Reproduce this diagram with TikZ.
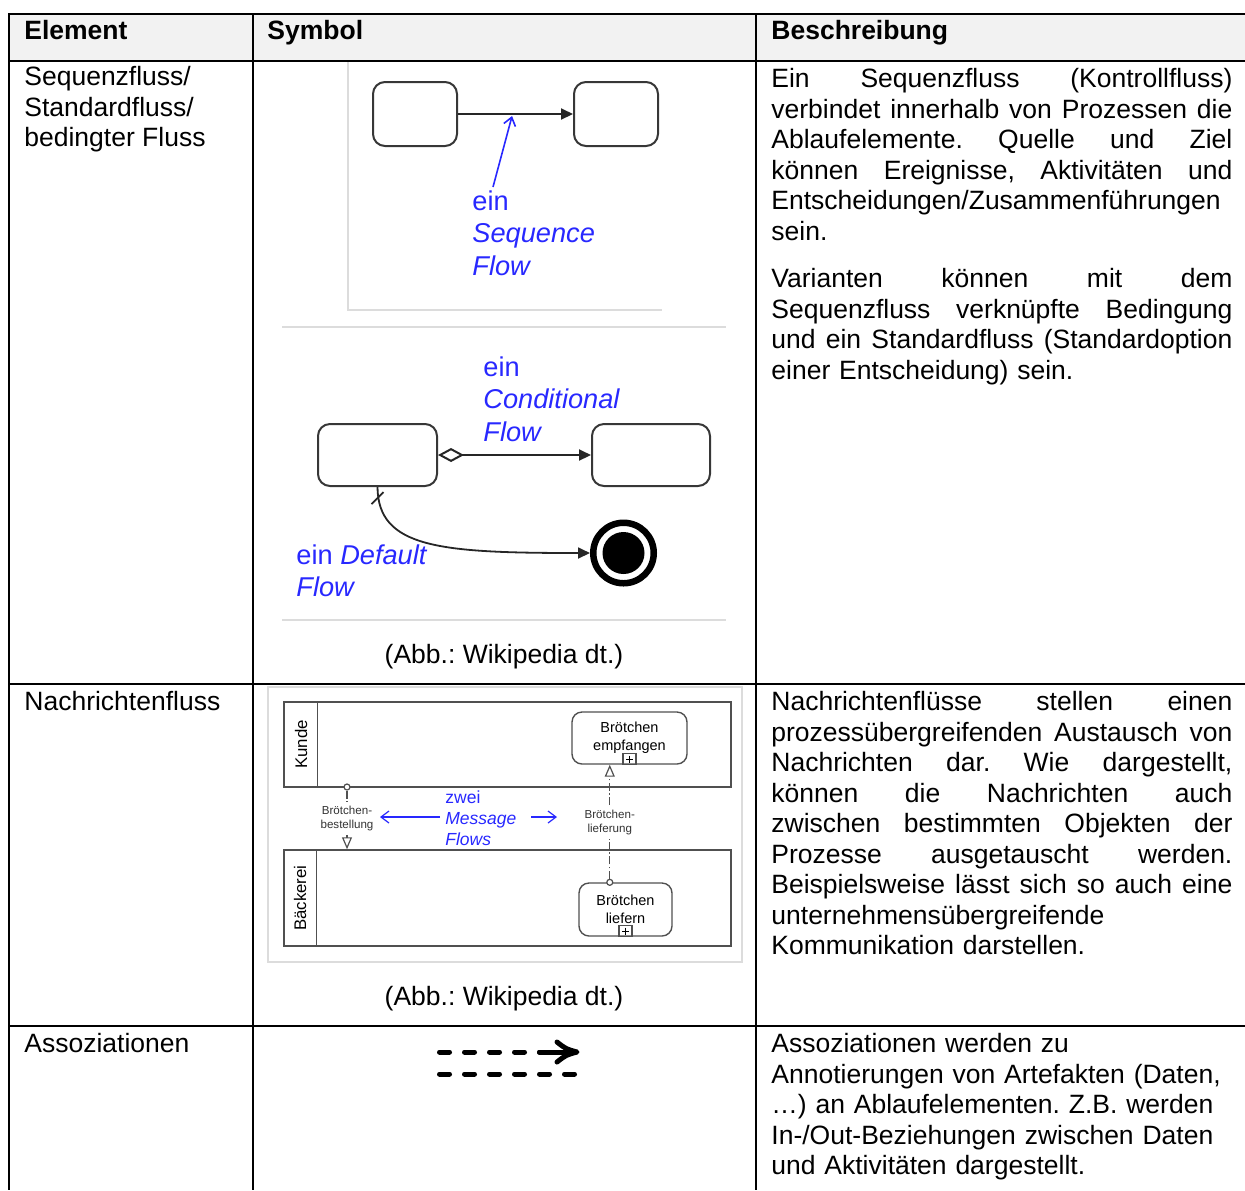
\documentclass[tikz,border=0pt]{standalone}
\usepackage{fontspec}
\setmainfont{Liberation Sans}
\usetikzlibrary{arrows.meta,calc}

\definecolor{lblblue}{RGB}{40,40,255}
\definecolor{hdrgrey}{RGB}{242,242,242}
\definecolor{framegrey}{RGB}{220,220,220}
\definecolor{shapegrey}{RGB}{55,55,55}
\definecolor{poolgrey}{RGB}{80,80,80}

\newcommand\bodyfont{\fontsize{13.25pt}{15.25pt}\selectfont}
\newcommand\figfont{\fontsize{13.6pt}{16.25pt}\selectfont}
\newcommand\taskfont{\fontsize{7.25pt}{9pt}\selectfont}
\newcommand\msgfont{\fontsize{5.8pt}{7pt}\selectfont}
\newcommand\notefont{\fontsize{8.75pt}{10.5pt}\selectfont}
\newcommand\poolfont{\fontsize{8.4pt}{10pt}\selectfont}
% width of the description column and a fully justified line in it:
% every interword space gets an equal share of the spare width
\newlength\desccol
\setlength\desccol{230.5pt}
\newcommand\jl[1]{\noindent\hbox to \desccol{\spaceskip=\fontdimen2\font plus 1fil\relax
  \xspaceskip=\spaceskip #1}}

\tikzset{
  grid/.style={line width=1.4pt, black},
  cell/.style={anchor=north west, inner sep=0pt, align=left, font=\bodyfont,
    execute at begin node=\strut},
  desc/.style={anchor=north west, inner sep=0pt, text width=\desccol, align=left,
    font=\bodyfont, execute at begin node=\strut},
  caption/.style={anchor=base, inner sep=0pt, font=\bodyfont},
  frameline/.style={line width=1.2pt, framegrey},
  flowbox/.style={draw=shapegrey, line width=1pt, rounded corners=6pt,
    minimum width=42pt, minimum height=32pt, inner sep=0pt},
  seqline/.style={draw=black!85, line width=1pt},
  bluelbl/.style={text=lblblue, anchor=north west, inner sep=0pt, align=left,
    font=\figfont, execute at begin node=\strut},
  bluearrow/.style={draw=lblblue, line width=0.8pt,
    -{Straight Barb[length=4pt,width=6pt]}},
  pool/.style={draw=poolgrey, line width=0.75pt, inner sep=0pt, minimum width=223.5pt},
  task/.style={draw=poolgrey, line width=0.7pt, rounded corners=5pt, inner sep=0pt,
    align=center, font=\taskfont},
  msgline/.style={draw=poolgrey, line width=0.7pt,
    dash pattern=on 4pt off 1.2pt on 0.8pt off 1.2pt},
  msgstart/.style={circle, draw=poolgrey, line width=0.6pt, fill=white,
    minimum size=3pt, inner sep=0pt},
  msglbl/.style={font=\msgfont, align=center, inner sep=2pt, text=black!80},
  assoc/.style={line width=2.5pt, line cap=round, black,
    dash pattern=on 5pt off 7.5pt},
}

\begin{document}
\frenchspacing
\begin{tikzpicture}[x=0.5pt,y=-0.5pt]
\useasboundingbox (0,0) rectangle (1245,1190);

% ---------- table ----------
\fill[hdrgrey] (9,14) rectangle (1245,61);
\draw[grid] (9,14) -- (1245,14);
\draw[grid] (9,61) -- (1245,61);
\draw[grid] (9,684) -- (1245,684);
\draw[grid] (9,1026) -- (1245,1026);
\draw[grid] (9,13) -- (9,1190);
\draw[grid] (253,13) -- (253,1190);
\draw[grid] (756,13) -- (756,1190);

% header
\node[cell] (hElem) at (24,18) {\bfseries Element};
\node[cell] (hSym) at (267,18) {\bfseries Symbol};
\node[cell] (hDesc) at (771,18) {\bfseries Beschreibung};

% first column
\node[cell] (e1) at (24,66) {Sequenzfluss/\\Standardfluss/\\bedingter Fluss};
\node[cell] (e2) at (24,689) {Nachrichtenfluss};
\node[cell] (e3) at (24,1031) {Assoziationen};

% description column
\node[desc] (d1a) at (771,66) {\jl{Ein Sequenzfluss (Kontrollfluss)}\\
\jl{verbindet innerhalb von Prozessen die}\\
\jl{Ablaufelemente. Quelle und Ziel}\\
\jl{können Ereignisse, Aktivitäten und}\\
Entscheidungen/Zusammenführungen\\
sein.};
\node[desc] (d1b) at (771,266) {\jl{Varianten können mit dem}\\
\jl{Sequenzfluss verknüpfte Bedingung}\\
\jl{und ein Standardfluss (Standardoption}\\
einer Entscheidung) sein.};
\node[desc] (d2) at (771,689) {\jl{Nachrichtenflüsse stellen einen}\\
\jl{prozessübergreifenden Austausch von}\\
\jl{Nachrichten dar. Wie dargestellt,}\\
\jl{können die Nachrichten auch}\\
\jl{zwischen bestimmten Objekten der}\\
\jl{Prozesse ausgetauscht werden.}\\
\jl{Beispielsweise lässt sich so auch eine}\\
unternehmensübergreifende\\
Kommunikation darstellen.};
\node[desc] (d3) at (771,1031) {Assoziationen werden zu\\
Annotierungen von Artefakten (Daten,\\
…) an Ablaufelementen. Z.B. werden\\
In-/Out-Beziehungen zwischen Daten\\
und Aktivitäten dargestellt.};

% ---------- sequence flow ----------
\draw[frameline] (348,62) -- (348,310) -- (662,310);
\node[flowbox] (b1) at (415,114) {};
\node[flowbox] (b2) at (616,114) {};
\draw[seqline, -{Triangle[length=6pt,width=5.5pt]}] (b1.east) -- (b2.west);
\coordinate (seqtip) at ($(b1.east)!0.47!(b2.west)+(0,2)$);
\coordinate (seqtail) at (493,187);
\draw[bluearrow] (seqtail) -- (seqtip);
\node[bluelbl] (seqlbl) at (472,190) {ein\\\textit{Sequence}\\\textit{Flow}};

% ---------- conditional / default flow ----------
\draw[frameline] (282,327) -- (726,327);
\draw[frameline] (282,620) -- (726,620);
\node[flowbox, minimum width=59.5pt, minimum height=31pt] (c1) at (377.5,455) {};
\node[flowbox, minimum width=59pt, minimum height=31pt] (c2) at (651,455) {};
\node[circle, draw=black, line width=3.25pt, minimum size=30.25pt, inner sep=0pt]
  (ee) at (623.5,553) {};
\fill[black] (ee.center) circle[radius=21];
\draw[seqline, {Diamond[open,length=13pt,width=7pt]}-{Triangle[length=6pt,width=5.5pt]}]
  (c1.east) -- (c2.west);
\draw[seqline, line width=0.9pt, -{Triangle[length=6pt,width=5.5pt]}]
  (c1.south) .. controls (378,548) and (440,553) .. (ee.west);
\draw[seqline, line width=0.9pt] ($(c1.south)+(-6,17)$) -- ($(c1.south)+(6,5)$);
\node[bluelbl] (condlbl) at (483,356) {ein\\\textit{Conditional}\\\textit{Flow}};
\node[bluelbl] (deflbl) at (296,544) {ein \textit{Default}\\\textit{Flow}};
\node[caption] (cap1) at (504,663.5) {(Abb.: Wikipedia dt.)};

% ---------- message flows ----------
\draw[frameline] (268,687) rectangle (742,962);
\node[pool, minimum height=42.5pt] (ku) at (507.5,744.5) {};
\draw[poolgrey, line width=0.75pt] ($(ku.north west)+(34,0)$) -- ($(ku.south west)+(34,0)$);
\node[rotate=90, font=\poolfont, inner sep=0pt] (kulbl) at (301,744.5) {Kunde};
\node[pool, minimum height=48pt] (bk) at (507.5,898) {};
\draw[poolgrey, line width=0.75pt] ($(bk.north west)+(33,0)$) -- ($(bk.south west)+(33,0)$);
\node[rotate=90, font=\poolfont, inner sep=0pt] (bklbl) at (300,898) {Bäckerei};

\node[task, minimum width=57.5pt, minimum height=26pt] (t1) at (629.5,738)
  {Brötchen\\empfangen};
\node[task, minimum width=46.5pt, minimum height=26.5pt] (t2) at (625.5,909.5)
  {Brötchen\\liefern};
\foreach \t in {t1,t2}{
  \draw[poolgrey, line width=0.6pt] ($(\t.south)+(-6.5,-11)$) rectangle ($(\t.south)+(6.5,0)$);
  \draw[black, line width=0.5pt] ($(\t.south)+(-3.5,-5.5)$) -- ($(\t.south)+(3.5,-5.5)$)
    ($(\t.south)+(0,-9)$) -- ($(\t.south)+(0,-2)$);
}

% order: Kunde -> Bäckerei
\node[msgstart] (ms1) at (347,787) {};
\node[msglbl] (ml1) at (347,818) {Brötchen-\\bestellung};
\draw[msgline] (ms1.south) -- (ml1.north);
\draw[msgline, -{Triangle[open,length=6pt,width=5pt,line width=0.6pt]}]
  (ml1.south) -- (ml1.south |- bk.north);

% delivery: Bäckerei -> Kunde
\node[msgstart] (ms2) at ($(t2.north west)!1/3!(t2.north east)$) {};
\node[msglbl] (ml2) at (ms2 |- 0,822) {Brötchen-\\lieferung};
\draw[msgline] (ms2.north) -- (ml2.south);
\draw[msgline, -{Triangle[open,length=6pt,width=5pt,line width=0.6pt]}]
  (ml2.north) -- (ml2.north |- t1.south);

\node[bluelbl, font=\notefont] (mfl) at (445,790) {zwei\\\textit{Message}\\\textit{Flows}};
\coordinate (ba1s) at (440,817);
\coordinate (ba1e) at (380,817);
\coordinate (ba2s) at (531,817);
\coordinate (ba2e) at (557,817);
\draw[bluearrow, line width=0.6pt] (ba1s) -- (ba1e);
\draw[bluearrow, line width=0.6pt] (ba2s) -- (ba2e);
\node[caption] (cap2) at (504,1005.5) {(Abb.: Wikipedia dt.)};

% ---------- association symbol ----------
\draw[assoc] (439.5,1052) -- (550,1052);
\draw[line width=2.5pt, line cap=round] (539.5,1052) -- (574,1052);
\draw[line width=2.5pt, line cap=round, line join=round]
  (557,1042) .. controls (566,1049) .. (577,1052) .. controls (566,1055) .. (557,1062);
\draw[assoc] (439.5,1074) -- (576,1074);
\end{tikzpicture}
\end{document}
